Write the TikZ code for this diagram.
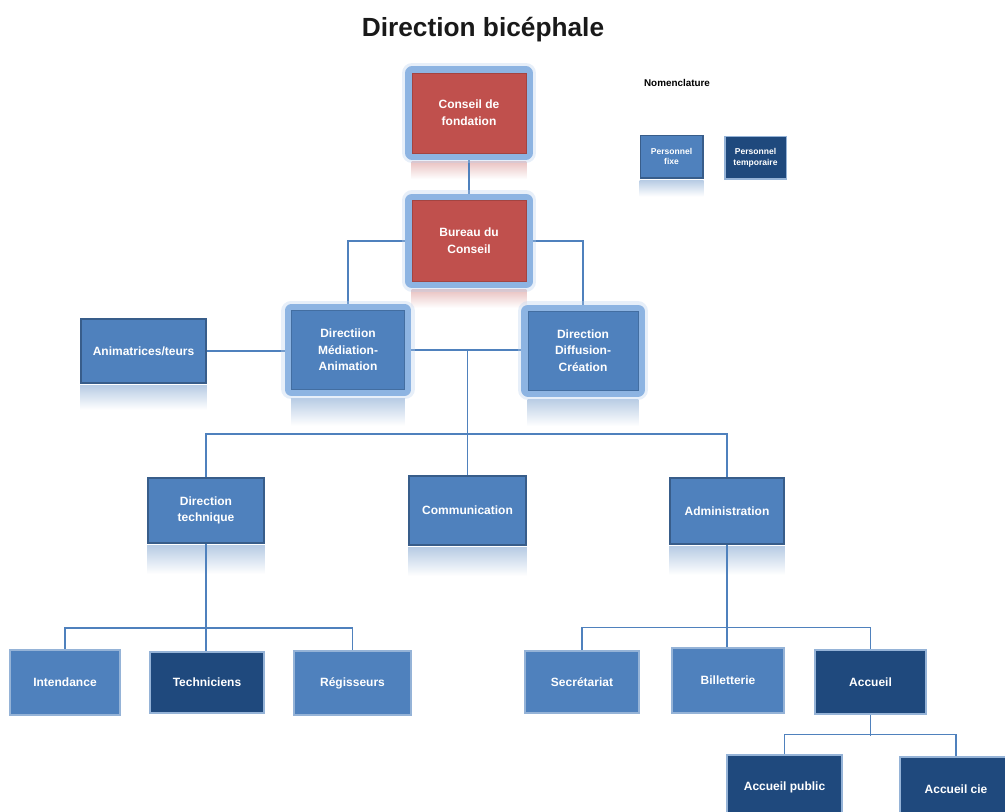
\documentclass[tikz,border=0pt]{standalone}
\usepackage{fontspec}
\setmainfont{Liberation Sans}
\definecolor{fixblue}{RGB}{79, 129, 189}
\definecolor{tempblue}{RGB}{31, 73, 125}
\definecolor{boardred}{RGB}{192, 80, 77}
\definecolor{glowblue}{RGB}{141, 180, 226}
\definecolor{edgedark}{RGB}{56, 93, 138}
\definecolor{edgelight}{RGB}{149, 179, 215}
\definecolor{linkblue}{RGB}{79, 129, 189}
\usepackage{tikz}
\usetikzlibrary{positioning, calc, backgrounds}

\tikzset{
  unit/.style={rectangle, text=white, align=center, inner sep=2pt, line width=1.2pt,
    font=\fontsize{9}{12.5}\selectfont\bfseries},
  fixbox/.style={unit, fill=fixblue, draw=#1},
  fixbox/.default=edgedark,
  tempbox/.style={unit, fill=tempblue, draw=edgelight},
  glowbox/.style={unit, fill=#1, draw=#1!85!black, line width=.4pt,
    preaction={draw=glowblue!60, line width=15pt, line join=round, opacity=.35},
    preaction={draw=glowblue, line width=10pt, line join=round}},
  link/.style={draw=linkblue, line width=.9pt},
}
\newcommand{\fadebelow}[4]{%
  \shade[top color=#2, bottom color=white] ($(#1.south west)+(0,#3)$) rectangle ($(#1.south east)+(0,#4)$);}

\begin{document}
\begin{tikzpicture}[x=0.75pt, y=-0.75pt]
  \useasboundingbox (0,0) rectangle (1005,811);
  \node[font=\fontsize{19.7}{24}\selectfont\bfseries, text=black!90] (title) at (483,30) {Direction bicéphale};

  % Board
  \node[glowbox=boardred, minimum width=85.5pt, minimum height=60pt] (conseil) at (469,113) {Conseil de\\fondation};
  \node[glowbox=boardred, minimum width=85.5pt, minimum height=61pt] (bureau) at (469,241) {Bureau du\\Conseil};

  % Legend
  \node[font=\fontsize{7.4}{9}\selectfont\bfseries] (nomen) at (677,83) {Nomenclature};
  \node[fixbox, line width=1pt, minimum width=47pt, minimum height=32pt, font=\fontsize{6.4}{8}\selectfont\bfseries] (fixe) at (671.5,156.5) {Personnel\\fixe};
  \node[tempbox, line width=1pt, minimum width=46pt, minimum height=32pt, font=\fontsize{6.4}{8}\selectfont\bfseries] (temp) at (755.5,157.5) {Personnel\\temporaire};

  % Two directions
  \node[glowbox=fixblue, minimum width=85pt, minimum height=59pt] (mediation) at (348,350) {Directiion\\Médiation-\\Animation};
  \node[glowbox=fixblue, minimum width=82.5pt, minimum height=59pt] (diffusion) at (583,350.5) {Direction\\Diffusion-\\Création};
  \node[fixbox, minimum width=94pt, minimum height=48pt] (anim) at (143.5,351) {Animatrices/teurs};

  % Services
  \node[fixbox, minimum width=87pt, minimum height=49pt] (dirtech) at (206,510.5) {Direction\\technique};
  \node[fixbox, minimum width=88pt, minimum height=52pt] (comm) at (467.5,510.5) {Communication};
  \node[fixbox, minimum width=85.5pt, minimum height=49.5pt] (admin) at (727,511) {Administration};

  % Staff
  \node[fixbox=edgelight, minimum width=82.5pt, minimum height=49pt] (intendance) at (65,682.5) {Intendance};
  \node[tempbox, minimum width=85.5pt, minimum height=46pt] (techniciens) at (207,682.5) {Techniciens};
  \node[fixbox=edgelight, minimum width=88pt, minimum height=48pt] (regisseurs) at (352.5,683) {Régisseurs};
  \node[fixbox=edgelight, minimum width=85.5pt, minimum height=46.5pt] (secretariat) at (582,682) {Secrétariat};
  \node[fixbox=edgelight, minimum width=84pt, minimum height=49pt] (billetterie) at (728,680.5) {Billetterie};
  \node[tempbox, minimum width=83pt, minimum height=48pt] (accueil) at (870.5,682) {Accueil};
  \node[tempbox, minimum width=86pt, minimum height=48pt] (accpublic) at (784.5,787) {Accueil public};
  \node[tempbox, minimum width=84pt, minimum height=48pt] (acccie) at (956,789) {Accueil cie};

  \begin{pgfonlayer}{background}
    % reflections
    \fadebelow{conseil}{boardred!35}{8}{26}
    \fadebelow{bureau}{boardred!35}{8}{26}
    \fadebelow{mediation}{fixblue!40}{9}{36}
    \fadebelow{diffusion}{fixblue!40}{9}{36}
    \fadebelow{anim}{fixblue!40}{2}{26}
    \fadebelow{fixe}{fixblue!40}{2}{18}
    \fadebelow{dirtech}{fixblue!40}{2}{30}
    \fadebelow{comm}{fixblue!40}{2}{30}
    \fadebelow{admin}{fixblue!40}{2}{30}

    % links
    \draw[link] (conseil.south) -- (bureau.north);
    \draw[link] (bureau.west) -| (mediation.north);
    \draw[link] (bureau.east) -| (diffusion.north);
    \draw[link] (anim.east) -- (anim.east -| mediation.west);
    \draw[link] (mediation.east) -- (mediation.east -| diffusion.west);
    \draw[link] (comm.north) -- (comm.north |- mediation.east);
    \draw[link] (dirtech.north) -- ++(0,-43) -| (admin.north);
    \draw[link] (dirtech.south) -- (dirtech.south |- techniciens.north);
    \draw[link] (intendance.north) -- ++(0,-21) -| (regisseurs.north);
    \draw[link] (admin.south) -- (admin.south |- billetterie.north);
    \draw[link] (secretariat.north) -- ++(0,-23) -| (accueil.north);
    \draw[link] (accueil.south) -- ++(0,21);
    \draw[link] (accpublic.north) -- ++(0,-20) -| (acccie.north);
  \end{pgfonlayer}
\end{tikzpicture}
\end{document}
